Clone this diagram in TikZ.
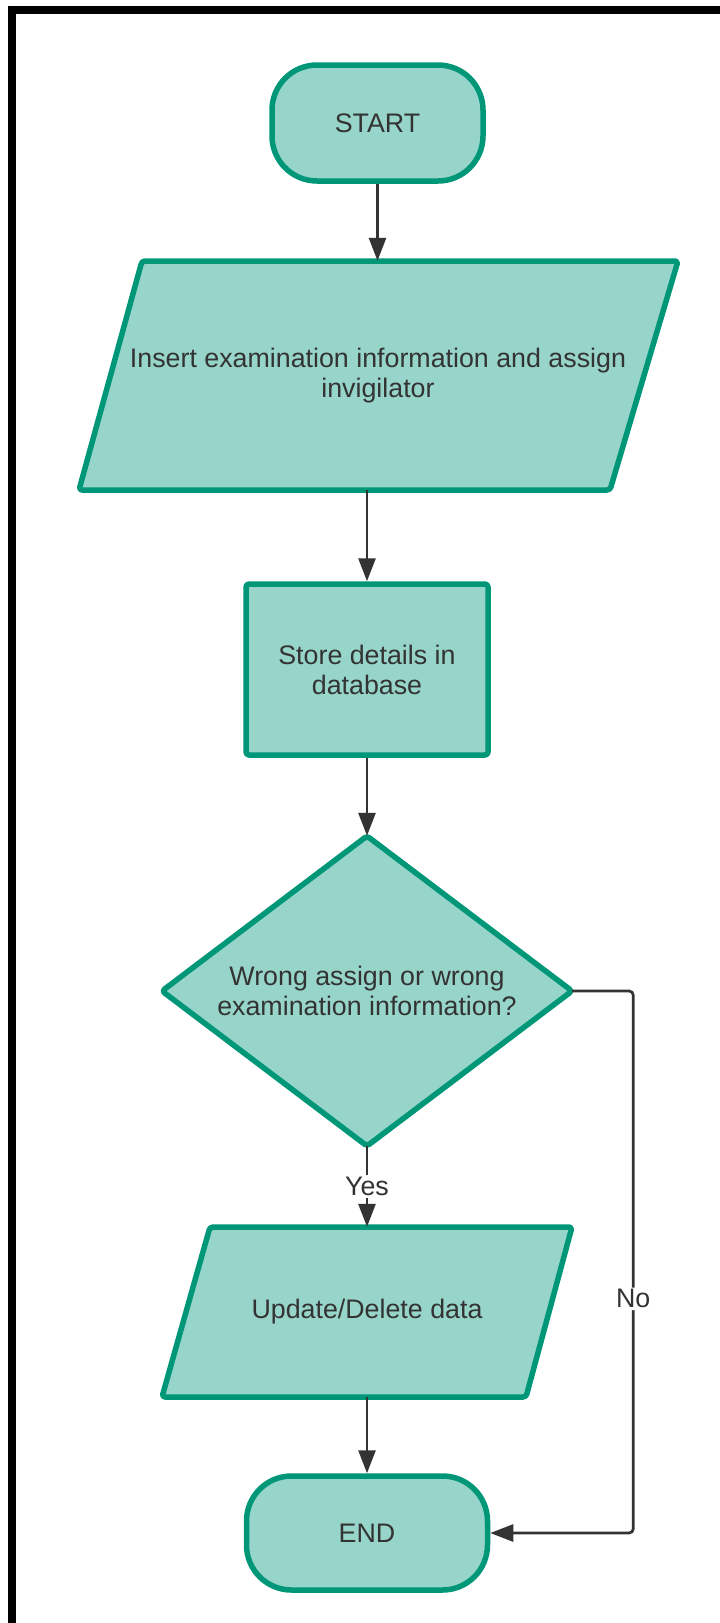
\documentclass[tikz,border=0pt]{standalone}
\usepackage{fontspec}
\setmainfont{Liberation Sans}
\usetikzlibrary{arrows.meta,calc}
\definecolor{fillc}{RGB}{151,213,202}
\definecolor{strokec}{RGB}{0,150,120}
\definecolor{linec}{RGB}{51,51,51}
\definecolor{textc}{RGB}{51,51,51}
\begin{document}
\begin{tikzpicture}[x=1pt,y=-1pt,
  shapebox/.style={draw=strokec, fill=fillc, line width=5.5pt, line join=round},
  txt/.style={text=textc, font=\fontsize{26.8}{30}\selectfont, align=center, inner sep=0pt},
  arr/.style={draw=linec, line width=2.7pt, -{Triangle[length=23pt,width=17pt]}},
  lbl/.style={fill=white, text=textc, font=\fontsize{26.8}{30}\selectfont, inner sep=2pt}]
\useasboundingbox (0,0) rectangle (720,1623);
\begin{scope}
\clip (0,0) rectangle (720,1623);
\draw[line width=8pt] (12,10) rectangle (730,1627);
\end{scope}

\node[shapebox, txt, rounded corners=45pt, minimum width=211pt, minimum height=116pt] (start) at (377.5,123) {START};

\draw[shapebox, rounded corners=3pt] (142,261) -- (678,261) -- (610,490) -- (79,490) -- cycle;
\node[txt, minimum width=470pt, minimum height=229pt] (in1) at (378,375.5) {Insert examination information and assign\\invigilator};

\node[shapebox, txt, rounded corners=3pt, minimum width=242pt, minimum height=171pt] (store) at (367,669.5) {Store details in\\database};

\draw[shapebox, rounded corners=3pt] (367,836) -- (572,991) -- (367,1146) -- (162,991) -- cycle;
\node[txt, minimum width=410pt, minimum height=310pt] (dec) at (367,991) {Wrong assign or wrong\\examination information?};

\draw[shapebox, rounded corners=3pt] (210,1227) -- (572,1227) -- (526,1397) -- (162,1397) -- cycle;
\node[txt, minimum width=362pt, minimum height=170pt] (in2) at (367,1312) {Update/Delete data};

\node[shapebox, txt, rounded corners=45pt, minimum width=241pt, minimum height=114pt] (stop) at (367,1533) {END};

\draw[arr] (start.south) -- (start.south |- in1.north);
\draw[arr] (in1.south -| store.north) -- (store.north);
\draw[arr] (store.south) -- (dec.north);
\draw[arr] (dec.south) -- node[lbl]{Yes} (in2.north);
\draw[arr] (in2.south) -- (stop.north);
\draw[arr, rounded corners=4pt] (dec.east) -- ++(61,0) |- node[lbl, pos=0.284]{No} (stop.east);
\end{tikzpicture}
\end{document}
